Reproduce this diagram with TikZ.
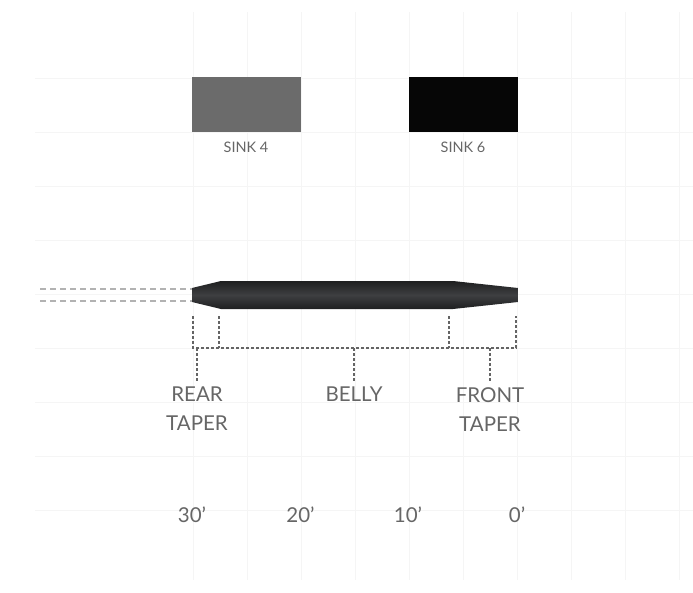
\documentclass[tikz,border=0pt]{standalone}
\usepackage{fontspec}
\setmainfont{Lato}
\definecolor{gridc}{RGB}{245,245,245}
\definecolor{txt}{RGB}{102,102,102}
\definecolor{sinkfour}{RGB}{107,107,107}
\definecolor{sinksix}{RGB}{6,6,6}
\definecolor{lineedge}{RGB}{30,31,32}
\definecolor{linemid}{RGB}{62,63,65}
\definecolor{runc}{RGB}{178,178,178}
\definecolor{brk}{RGB}{100,100,100}
\begin{document}
\begin{tikzpicture}[x=1pt,y=-1pt,
  gridline/.style={draw=gridc,line width=1pt},
  sinkbox/.style={minimum width=109pt,minimum height=55pt,inner sep=0pt,outer sep=0pt},
  sinklabel/.style={text=txt,font=\fontsize{14.5}{16}\selectfont,inner sep=0pt},
  biglabel/.style={text=txt,font=\fontsize{20.5}{29}\selectfont,inner sep=0pt,align=center},
  runline/.style={draw=runc,line width=1.2pt,dash pattern=on 6pt off 4pt},
  bracket/.style={draw=brk,line width=1.3pt,dash pattern=on 3pt off 2pt}]
\useasboundingbox (0,0) rectangle (693,592);
% grid
\foreach \k in {0,...,9}{\draw[gridline] (193+54*\k,12) -- (193+54*\k,580);}
\foreach \k in {0,...,8}{\draw[gridline] (35,78+54*\k) -- (693,78+54*\k);}
% sink boxes
\node[sinkbox,fill=sinkfour] (s4) at (246.5,104.5) {};
\node[sinkbox,fill=sinksix] (s6) at (463.5,104.5) {};
\node[sinklabel] (l4) at (246,147.5) {SINK 4};
\node[sinklabel] (l6) at (463,147.5) {SINK 6};
% running line
\coordinate (ra) at (40,289);
\coordinate (rb) at (40,301);
\coordinate (ta) at (192,289);
\coordinate (tb) at (192,301);
\draw[runline] (ra) -- (ta);
\draw[runline] (rb) -- (tb);
% fly line head
\shade[top color=lineedge,bottom color=lineedge,middle color=linemid]
  (192,288) -- (221,281) -- (453,281) -- (518,288) -- (518,302) -- (453,309) -- (221,309) -- (192,302) -- cycle;
% bracket
\coordinate (b1) at (193,316);
\coordinate (b2) at (219,316);
\coordinate (b3) at (449,316);
\coordinate (b4) at (516,316);
\coordinate (h1) at (193,348);
\coordinate (h2) at (219,348);
\coordinate (h3) at (449,348);
\coordinate (h4) at (516,348);
\draw[bracket] (b1) -- (h1) -- (h4) -- (b4);
\draw[bracket] (b2) -- (h2);
\draw[bracket] (b3) -- (h3);
\coordinate (d1) at (197,348);
\coordinate (d2) at (354,348);
\coordinate (d3) at (490,348);
\node[biglabel,anchor=north] (rear) at (197,387) {REAR\\TAPER};
\node[biglabel,anchor=north] (belly) at (354,387) {BELLY};
\node[biglabel,anchor=north] (front) at (490,387) {FRONT\\TAPER};
\draw[bracket] (d1) -- (197,381);
\draw[bracket] (d2) -- (354,381);
\draw[bracket] (d3) -- (490,381);
% scale
\node[biglabel] (m30) at (192,515) {30’};
\node[biglabel] (m20) at (300.5,515) {20’};
\node[biglabel] (m10) at (408,515) {10’};
\node[biglabel] (m0) at (517,515) {0’};
\end{tikzpicture}
\end{document}
